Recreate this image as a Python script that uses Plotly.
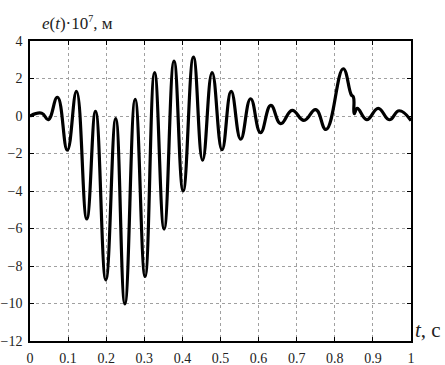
import plotly.graph_objects as go

# time (s) and e(t)*1e7 (m)
t_vals = [0, 0.031, 0.048, 0.072, 0.098, 0.122, 0.149, 0.172, 0.199, 0.225,
          0.249, 0.276, 0.302, 0.327, 0.352, 0.378, 0.402, 0.429, 0.453, 0.478,
          0.504, 0.528, 0.553, 0.579, 0.605, 0.632, 0.658, 0.688, 0.719, 0.750,
          0.777, 0.822, 0.843, 0.849, 0.851, 0.859, 0.884, 0.914, 0.943, 0.969, 1.0]
e_vals = [0, 0.15, -0.19, 1.0, -1.82, 1.31, -5.49, 0.25, -8.74, -0.14,
          -10.02, 0.89, -8.56, 2.31, -6.03, 2.93, -3.99, 3.14, -2.36, 2.31,
          -1.8, 1.31, -1.24, 0.92, -0.89, 0.57, -0.41, 0.30, -0.23, 0.34,
          -0.72, 2.52, 1.14, 1.0, 0.13, 0.41, -0.19, 0.41, -0.2, 0.28, -0.25]

x_ticks = [0, 0.1, 0.2, 0.3, 0.4, 0.5, 0.6, 0.7, 0.8, 0.9, 1]
x_tick_text = ["0", "0.1", "0.2", "0.3", "0.4", "0.5", "0.6", "0.7", "0.8", "0.9", "1"]
y_ticks = [4, 2, 0, -2, -4, -6, -8, -10, -12]

FONT = "Times New Roman, Liberation Serif, DejaVu Serif, serif"

fig = go.Figure()
fig.add_trace(go.Scatter(
    x=t_vals, y=e_vals, mode="lines",
    line=dict(color="black", width=3.2, shape="spline", smoothing=1.3),
    showlegend=False, hoverinfo="skip"))

axis_common = dict(
    showline=True, linecolor="black", linewidth=1.5, mirror="ticks",
    ticks="inside", ticklen=4, tickcolor="black", tickwidth=1,
    showgrid=True, gridcolor="#a0a0a0", gridwidth=1, griddash="dot",
    zeroline=False, automargin=False,
    tickfont=dict(family=FONT, size=14, color="#222"),
)

fig.update_xaxes(range=[0, 1], tickvals=x_ticks, ticktext=x_tick_text,
                 ticklabelstandoff=3, **axis_common)
fig.update_yaxes(range=[-12, 4], tickvals=y_ticks,
                 ticklabelstandoff=3, **axis_common)

fig.add_annotation(
    text="<i>e</i>(<i>t</i>)·10<sup><span style='font-size:10px'>7</span></sup>, м",
    xref="paper", yref="paper",
    x=0, y=1, xanchor="left", yanchor="bottom", xshift=10, yshift=6,
    showarrow=False, font=dict(family=FONT, size=17, color="#222"))
fig.add_annotation(
    text="<i>t</i>, с", xref="paper", yref="paper",
    x=1, y=0, xanchor="left", yanchor="bottom", xshift=2, yshift=-3,
    showarrow=False, font=dict(family=FONT, size=21, color="#222"))

fig.update_layout(
    width=445, height=365,
    margin=dict(l=30, r=34, t=41, b=24),
    paper_bgcolor="white", plot_bgcolor="white",
    font=dict(family=FONT),
)

fig.write_html(
    "out.html",
    config={"displayModeBar": False},
    post_script="document.body.style.margin='0';document.body.style.padding='0';",
)
